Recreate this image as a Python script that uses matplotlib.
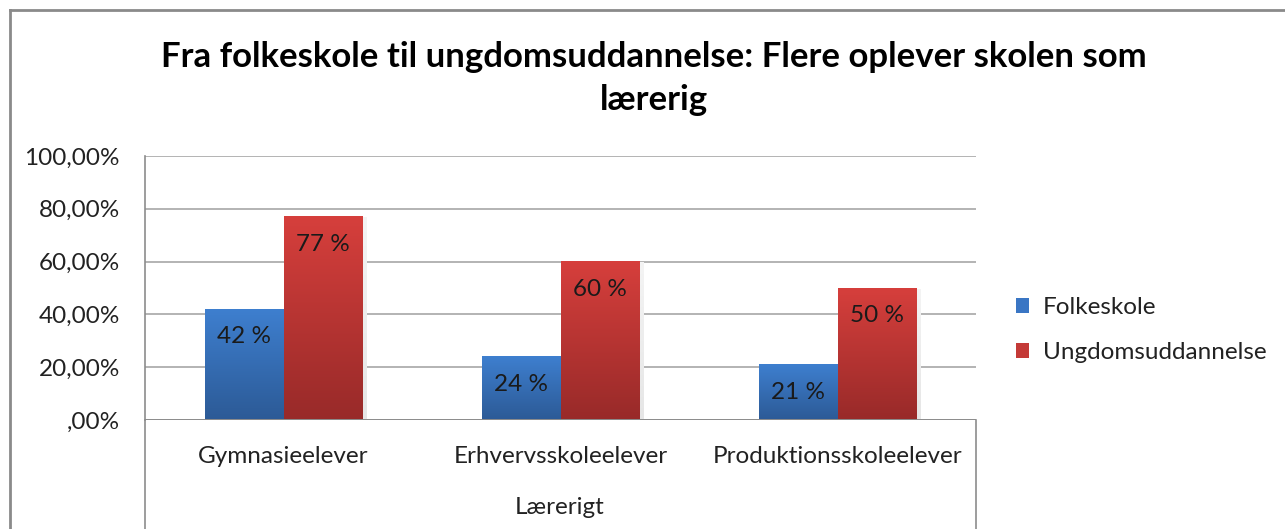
import numpy as np
import matplotlib
matplotlib.use('Agg')
import matplotlib.pyplot as plt
from matplotlib.colors import LinearSegmentedColormap
from matplotlib.patches import Patch
from matplotlib.lines import Line2D

categories = ['Gymnasieelever', 'Erhvervsskoleelever', 'Produktionsskoleelever']
folkeskole = [42, 24, 21]
ungdom = [77, 60, 50]
series_names = ['Folkeskole', 'Ungdomsuddannelse']
y_ticks = [0, 20, 40, 60, 80, 100]
y_tick_labels = [',00%', '20,00%', '40,00%', '60,00%', '80,00%', '100,00%']
title_lines = ['Fra folkeskole til ungdomsuddannelse: Flere oplever skolen som', 'lærerig']
x_label = 'Lærerigt'

plt.rcParams['font.family'] = ['Lato', 'DejaVu Sans']
FS = 17.5

W, H = 1285, 529
fig = plt.figure(figsize=(W / 100, H / 100), dpi=100)
ax = fig.add_axes([145 / W, 1 - 420 / H, (976 - 145) / W, (420 - 156) / H])

blue_cmap = LinearSegmentedColormap.from_list('b', ['#2c5a96', '#3e7fcf'])
red_cmap = LinearSegmentedColormap.from_list('r', ['#982a29', '#d63f3c'])
shadow_cmap = LinearSegmentedColormap.from_list('s', ['#e6e6e6', '#f4f4f4'])
grad = np.linspace(0, 1, 256).reshape(-1, 1)

x = np.arange(len(categories))
bw = 0.285
for vals, cmap, offset in [(folkeskole, blue_cmap, -bw), (ungdom, red_cmap, 0)]:
    bars = ax.bar(x + offset, vals, bw, align='edge', color='none', zorder=3)
    for b, v in zip(bars, vals):
        bx = b.get_x()
        # light shadow on the right side
        ax.imshow(grad, cmap=shadow_cmap, extent=[bx + 0.004, bx + bw + 0.012, 0, v - 0.4],
                  origin='lower', aspect='auto', zorder=2)
        ax.imshow(grad, cmap=cmap, extent=[bx, bx + bw, 0, v], origin='lower',
                  aspect='auto', zorder=3)
        ax.annotate(f'{v} %', (bx + bw / 2, v), xytext=(0, -20), textcoords='offset points',
                    ha='center', va='center', fontsize=FS, color='#1a1a1a', zorder=5)

ax.set_xlim(-0.5, len(categories) - 0.5)
ax.set_ylim(0, 100)
ax.set_yticks(y_ticks)
ax.set_yticklabels(y_tick_labels)
ax.set_xticks(x)
ax.set_xticklabels(categories)
ax.tick_params(axis='both', length=0, labelsize=FS, colors='#222222')
ax.tick_params(axis='x', pad=19)
ax.tick_params(axis='y', pad=18)
ax.grid(axis='y', color='#b3b3b3', linewidth=1.4, zorder=0)
ax.set_axisbelow(True)
for s in ['top', 'right', 'bottom']:
    ax.spines[s].set_visible(False)
ax.spines['left'].set_color('#8c8c8c')
ax.spines['left'].set_linewidth(1.2)
ax.axhline(0, color='#8c8c8c', linewidth=1.4, zorder=4)

# category axis lines reaching down to the axis title
fig.add_artist(Line2D([145 / W, 145 / W], [0, 1 - 420 / H], color='#8c8c8c', linewidth=1.2))
fig.add_artist(Line2D([976 / W, 976 / W], [0, 1 - 420 / H], color='#8c8c8c', linewidth=1.2))

fig.text(560 / W, 1 - 507 / H, x_label, ha='center', va='center', fontsize=FS, color='#222222')
for txt, ty in zip(title_lines, [57, 100]):
    fig.text(654 / W, 1 - ty / H, txt, ha='center', va='center', fontsize=25,
             fontweight='bold', color='black')

handles = [Patch(facecolor='#3a76c4'), Patch(facecolor='#c43a37')]
fig.legend(handles, series_names, loc='center left', bbox_to_anchor=(994 / W, 1 - 330 / H),
           frameon=False, fontsize=FS, handlelength=0.55, handleheight=0.55,
           handletextpad=0.55, labelspacing=1.0, labelcolor='#222222')

# chart border
fig.add_artist(Line2D([10 / W, 10 / W], [0, 1 - 10 / H], color='#8a8a8a', linewidth=2))
fig.add_artist(Line2D([10 / W, 1], [1 - 10 / H, 1 - 10 / H], color='#8a8a8a', linewidth=2))

fig.savefig('out.png', dpi=100)
